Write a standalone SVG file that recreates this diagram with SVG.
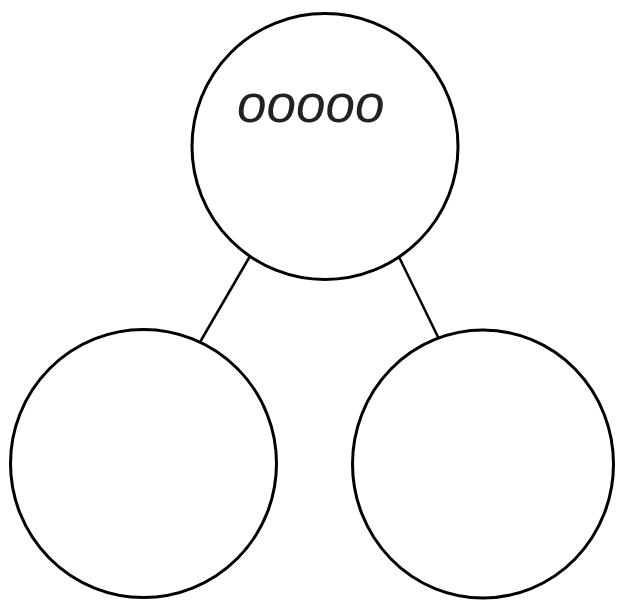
<svg xmlns="http://www.w3.org/2000/svg" width="619" height="600" viewBox="0 0 619 600">
<style>
.node{fill:#fff;stroke:#000;stroke-width:3}
.edge{stroke:#000;stroke-width:2.5;fill:none}
.lbl{font-family:"Liberation Sans",Arial,sans-serif;font-style:italic;font-size:53px;fill:#222}
</style>
<rect width="619" height="600" fill="#fff"/>
<g id="connectors">
<line class="edge" x1="249.5" y1="257" x2="199.5" y2="343"/>
<line class="edge" x1="399.5" y1="258" x2="439" y2="339"/>
</g>
<g id="node-top">
<ellipse class="node" cx="325" cy="146.5" rx="133" ry="133"/>
<text class="lbl" x="237" y="122">ooooo</text>
</g>
<g id="node-left">
<ellipse class="node" cx="143.5" cy="463.5" rx="133" ry="134"/>
</g>
<g id="node-right">
<ellipse class="node" cx="483" cy="464" rx="130.5" ry="134"/>
</g>
</svg>
